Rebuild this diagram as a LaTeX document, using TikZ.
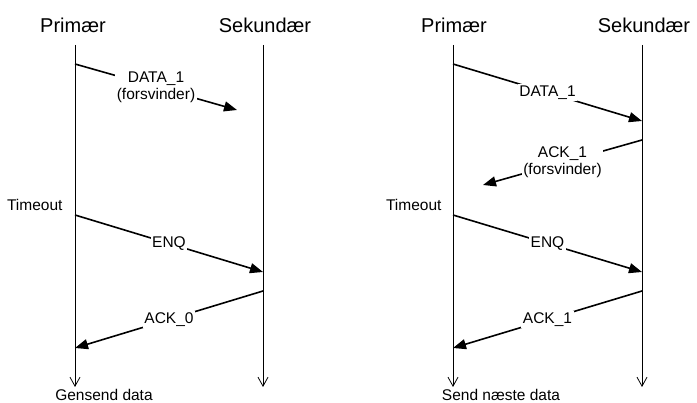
\documentclass[tikz,border=0pt]{standalone}
\usepackage{fontspec}
\setmainfont{Liberation Sans}
\usetikzlibrary{arrows.meta}

\begin{document}
\begin{tikzpicture}[x=1pt,y=-1pt]
        \tikzstyle{title} = [font=\fontsize{20}{24}\selectfont]
        \tikzstyle{note} = [font=\fontsize{15.5}{17}\selectfont]
        \tikzstyle{msglabel} = [font=\fontsize{15.5}{17}\selectfont, fill=white, inner sep=1.5pt, align=center]
        \tikzstyle{life} = [line width=0.8pt, -{Straight Barb[length=9pt,width=10pt,line width=0.8pt]}]
        \tikzstyle{msg} = [line width=1.6pt, -{Triangle[length=13pt,width=10pt]}]

        \useasboundingbox (0,0) rectangle (697,403);

        % left: DATA_1 lost
        \node (prim1) [title] at (73,25) {Primær};
        \node (sek1) [title] at (265,25) {Sekundær};
        \coordinate (p1top) at (75,45);
        \coordinate (p1end) at (75,387);
        \coordinate (s1top) at (263,45);
        \coordinate (s1end) at (263,387);
        \draw [life] (p1top) -- (p1end);
        \draw [life] (s1top) -- (s1end);

        \coordinate (p1a) at (75,64);
        \coordinate (lost1) at (237,110);
        \coordinate (p1b) at (75,215);
        \coordinate (s1b) at (263,272);
        \coordinate (s1c) at (263,291);
        \coordinate (p1c) at (75,348);

        \draw [msg] (p1a) -- node[msglabel] {DATA\_1\\(forsvinder)} (lost1);
        \node (tmo1) [note, anchor=east] at (66,205) {Timeout};
        \draw [msg] (p1b) -- node[msglabel] {ENQ} (s1b);
        \draw [msg] (s1c) -- node[msglabel] {ACK\_0} (p1c);
        \node (res1) [note, anchor=base, inner sep=0pt] at (104,401) {Gensend data};

        % right: ACK_1 lost
        \node (prim2) [title] at (454,25) {Primær};
        \node (sek2) [title] at (644,25) {Sekundær};
        \coordinate (p2top) at (453,45);
        \coordinate (p2end) at (453,387);
        \coordinate (s2top) at (642,45);
        \coordinate (s2end) at (642,387);
        \draw [life] (p2top) -- (p2end);
        \draw [life] (s2top) -- (s2end);

        \coordinate (p2a) at (453,64);
        \coordinate (s2a) at (642,121);
        \coordinate (s2x) at (642,140);
        \coordinate (lost2) at (483,185);
        \coordinate (p2b) at (453,215);
        \coordinate (s2b) at (642,272);
        \coordinate (s2c) at (642,291);
        \coordinate (p2c) at (453,348);

        \draw [msg] (p2a) -- node[msglabel] {DATA\_1} (s2a);
        \draw [msg] (s2x) -- node[msglabel] {ACK\_1\\(forsvinder)} (lost2);
        \node (tmo2) [note, anchor=east] at (445,205) {Timeout};
        \draw [msg] (p2b) -- node[msglabel] {ENQ} (s2b);
        \draw [msg] (s2c) -- node[msglabel] {ACK\_1} (p2c);
        \node (res2) [note, anchor=base, inner sep=0pt] at (501,401) {Send næste data};
    \end{tikzpicture}
\end{document}
